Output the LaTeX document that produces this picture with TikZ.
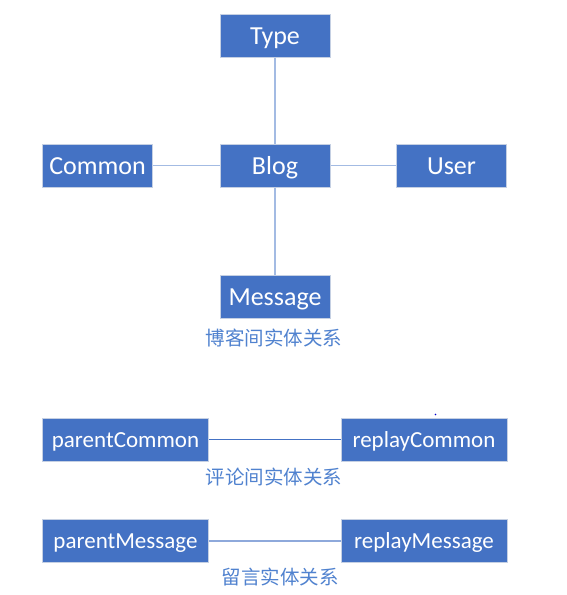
\documentclass[tikz,border=0pt]{standalone}
\usepackage{fontspec}
\setmainfont{Carlito}
\newfontfamily\cjk{Noto Sans CJK SC}
\definecolor{boxblue}{HTML}{4472C4}
\definecolor{boxedge}{HTML}{C5D0E3}
\definecolor{lightline}{HTML}{A3BBE3}
\definecolor{midline}{HTML}{8EA9DB}
\definecolor{captionblue}{HTML}{5082CF}
\begin{document}
\begin{tikzpicture}[x=1pt,y=-1pt,
  entity/.style={draw=boxedge, line width=1pt, fill=boxblue, text=white,
    minimum height=43pt, inner sep=0pt, text depth=0pt, anchor=center},
  shortbox/.style={entity, minimum width=110pt, font=\fontsize{26}{28}\selectfont, text height=17pt},
  longbox/.style={entity, minimum width=166pt, font=\fontsize{23}{25}\selectfont, text height=15pt},
  caption/.style={text=captionblue, font=\cjk\fontsize{19.5}{22}\selectfont, inner sep=0pt},
  thinlink/.style={draw=boxblue, line width=1.2pt},
  lightlink/.style={draw=lightline, line width=1.8pt},
  midlink/.style={draw=midline, line width=2pt}]
\useasboundingbox (0,0) rectangle (567,595);
\fill[white] (0,0) rectangle (567,595);

\node[shortbox] (type) at (275,35.5) {Type};
\node[shortbox] (blog) at (275,165.5) {Blog};
\node[shortbox] (common) at (97.5,165.5) {Common};
\node[shortbox] (user) at (451.5,165.5) {User};
\node[shortbox] (message) at (275,296.5) {Message};
\node[caption] (cap1) at (274,338) {博客间实体关系};

\draw[lightlink] (type) -- (blog);
\draw[lightlink] (common) -- (blog);
\draw[lightlink] (blog) -- (user);
\draw[lightlink] (blog) -- (message);

\node[longbox] (pc) at (125.5,439.5) {parentCommon};
\node[longbox] (rc) at (424,439.5) {replayCommon};
\node[caption] (cap2) at (274,477.5) {评论间实体关系};
\draw[thinlink] (pc) -- (rc);

\node[longbox] (pm) at (125.5,540.5) {parentMessage};
\node[longbox] (rm) at (424,540.5) {replayMessage};
\node[caption] (cap3) at (280,577) {留言实体关系};
\draw[midlink] (pm) -- (rm);

\fill[blue!80!black] (435.5,414.5) circle (0.8pt);
\end{tikzpicture}
\end{document}
